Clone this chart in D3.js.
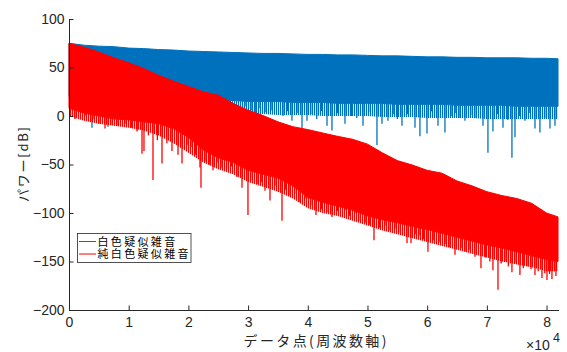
<!DOCTYPE html>
<html><head><meta charset="utf-8">
<script src="https://cdn.jsdelivr.net/npm/d3@7"></script>
<style>body{margin:0;background:#fff}svg{display:block}</style>
</head><body>
<svg id="c" width="567" height="352"></svg>
<script>
// ---- data ----
const gridX = [0,2500,5000,7500,10000,12500,15000,17500,20000,22500,25000,27500,30000,32500,35000,37500,40000,42500,45000,47500,50000,52500,55000,57500,60000,62500,65000,67500,70000,72500,75000,77500,80000,81920];
const blueTop = [75,73,72,71.5,70,69.5,68.5,68,67,66.5,66,65.5,65,64.5,64.5,64,63.5,63.5,63,63,62.5,62,62,61.5,61,61,60.5,60.5,60,60,60,59.5,59.5,59];
const blueBottom = [20,19,19,18,18,18,17,17,17,16,16,16,15,15,15,14,14,14,13,13,13,13,12,12,12,12,11,11,11,11,10,10,10,10];
const blueFringe = [6,5,5,4,4,4,3,3,3,3,2,2,2,2,1,1,1,0,0,0,0,-1,-1,-1,-2,-2,-2,-2,-3,-3,-3,-3,-3,-3];
const redTop = [75,71,66,60,55,49,42,36,30.5,25,21.5,13,6,0.5,-6,-11,-14,-17.5,-21,-24,-29,-38,-46,-50.5,-56,-59,-67,-72,-78,-82,-85,-90,-100,-104];
const redBottom = [8,3,0,-3,-4,-6,-8,-13,-22,-35,-43,-48,-56,-60,-64,-72,-84,-89,-93,-97,-103,-107,-110,-114,-117,-121,-125,-129,-133,-136,-140,-144,-148,-150];
const redFringe = [0,-5,-8,-10,-12,-15,-20,-28,-38,-48,-55,-60,-68,-73,-78,-85,-95,-100,-103,-108,-113,-118,-122,-126,-130,-134,-138,-142,-146,-150,-153,-156,-160,-160];

const blueSpikeX = [170,1840,3000,3850,5200,6530,8000,9500,11390,29650,30500,31200,32000,33000,34000,35850,36600,37350,38200,39030,39870,40500,41500,42300,43220,44050,45000,46230,47300,48200,49250,50200,51590,52430,53430,54300,55000,55780,56700,57960,58790,59970,60700,61810,62980,64000,64800,65500,66330,67300,68200,69350,70180,71020,71800,72700,73500,74200,74710,75500,76380,77200,78060,78890,79700,80570,81410];
const blueSpikeMin = [5,4,8,-12,6,-11,7,5,-14,10,6,3,8,4,6,0,5,-5,3,-13,-5,2,-3,5,-10,-15,3,-8,0,-2,-10,4,-30,-8,-5,2,-3,-10,2,-12,-21,-18,5,-10,-17,0,3,-2,-5,1,-2,-10,-38,-16,2,-12,-4,-43,-22,0,-5,3,-13,-17,-2,-13,-10];

const redSpikeX = [1000,2680,4020,5000,6030,7000,8210,9550,10500,11400,12230,12560,13300,14070,14800,15580,16400,17250,18260,18930,19770,20440,21200,21940,22110,22950,23500,24120,24800,25630,26400,27200,28140,28980,29980,30700,31490,32200,32830,33670,34500,35100,35680,36300,37020,37800,38690,39700,40500,41370,42300,43200,44050,45000,46230,47000,47910,48800,49600,50300,51090,52000,52930,53800,54610,55500,56620,57290,58000,58790,59400,60130,61000,62140,63000,63800,64660,65830,66500,67170,68000,69010,69800,70500,71020,71860,72400,73030,73600,74200,74900,75540,76100,76720,77400,78060,78600,79230,79700,80070,80500,80900,81300,81570];
const redSpikeMin = [-3,0,-3,-8,-13,-9,-10,-8,-12,-16,-39,-36,-20,-66,-25,-49,-28,-36,-40,-49,-30,-32,-40,-53,-74,-47,-50,-56,-48,-53,-55,-52,-63,-74,-102,-66,-70,-68,-77,-87,-72,-78,-108,-76,-82,-80,-89,-85,-92,-102,-96,-99,-104,-98,-97,-103,-100,-108,-110,-112,-128,-115,-113,-118,-116,-120,-131,-131,-122,-123,-127,-140,-128,-130,-132,-135,-143,-136,-140,-138,-145,-157,-146,-150,-159,-179,-152,-150,-155,-161,-152,-164,-157,-155,-158,-164,-160,-167,-162,-169,-163,-168,-160,-165];

const xTicks = [0,10000,20000,30000,40000,50000,60000,70000,80000];
const xTickLabels = ["0","1","2","3","4","5","6","7","8"];
const yTicks = [100,50,0,-50,-100,-150,-200];
const yTickLabels = ["100","50","0","\u221250","\u2212100","\u2212150","\u2212200"];
const seriesNames = ["白色疑似雑音","純白色疑似雑音"];
const seriesColors = ["#0072BD","#FF0000"];
const xLabel = "データ点(周波数軸)";
const yLabel = "パワー[dB]";

// ---- drawing ----
const svg = d3.select("#c");
const axisColor = "#262626";
const x = d3.scaleLinear().domain([0, 82000]).range([69, 558.5]);
const y = d3.scaleLinear().domain([-200, 100]).range([310, 19]);

const defs = svg.append("defs");
seriesColors.forEach((c, i) => {
  const p = defs.append("pattern").attr("id", "stripe" + i).attr("patternUnits", "userSpaceOnUse")
    .attr("width", 2).attr("height", 10);
  p.append("rect").attr("width", 1.2).attr("height", 10).attr("fill", c);
});

function drawSeries(idx, top, bottom, fringe, sx, smin) {
  const color = seriesColors[idx];
  const rows = gridX.map((gx, i) => ({gx, t: top[i], b: bottom[i], f: fringe[i]}));
  svg.append("path").datum(rows)
    .attr("d", d3.area().x(d => x(d.gx)).y0(d => y(d.f)).y1(d => y(d.b)))
    .attr("fill", `url(#stripe${idx})`);
  svg.append("path").datum(rows)
    .attr("d", d3.area().x(d => x(d.gx)).y0(d => y(d.b)).y1(d => y(d.t)))
    .attr("fill", color).attr("stroke", color).attr("stroke-width", 1);
  const bottomAt = d3.scaleLinear().domain(gridX).range(bottom);
  svg.append("g").selectAll("line").data(sx.map((v, i) => ({v, m: smin[i]})))
    .join("line")
    .attr("x1", d => x(d.v)).attr("x2", d => x(d.v))
    .attr("y1", d => y(bottomAt(d.v)) - 2).attr("y2", d => y(d.m))
    .attr("stroke", color).attr("stroke-width", 1.3);
}
drawSeries(0, blueTop, blueBottom, blueFringe, blueSpikeX, blueSpikeMin);
drawSeries(1, redTop, redBottom, redFringe, redSpikeX, redSpikeMin);

// axes
const font = "'Liberation Sans', Arial, sans-serif";
const gx = svg.append("g").attr("transform", "translate(0,310)")
  .call(d3.axisBottom(x).tickValues(xTicks).tickFormat((d, i) => xTickLabels[i])
    .tickSizeInner(-4.5).tickSizeOuter(0).tickPadding(7.5));
const gy = svg.append("g").attr("transform", "translate(69,0)")
  .call(d3.axisLeft(y).tickValues(yTicks).tickFormat((d, i) => yTickLabels[i])
    .tickSizeInner(-4.5).tickSizeOuter(0).tickPadding(4.5));
[gx, gy].forEach(g => {
  g.select(".domain").attr("stroke", axisColor).attr("stroke-width", 1);
  g.selectAll(".tick line").attr("stroke", axisColor).attr("stroke-width", 1);
  g.selectAll(".tick text").attr("fill", axisColor).style("font-family", font).style("font-size", "14px");
});

// exponent
svg.append("text").attr("x", 526).attr("y", 350).attr("fill", axisColor)
  .style("font-family", font).style("font-size", "14px").text("\u00d710");
svg.append("text").attr("x", 553).attr("y", 342).attr("fill", axisColor)
  .style("font-family", font).style("font-size", "12.5px").text("4");

// labels
const cjk = "'Noto Sans CJK JP', sans-serif";
svg.append("text").attr("x", 243.5).attr("y", 346).attr("fill", axisColor)
  .attr("textLength", 143).attr("lengthAdjust", "spacing")
  .style("font-family", cjk).style("font-size", "14px").text(xLabel);
svg.append("text").attr("transform", "translate(28,202) rotate(-90)").attr("fill", axisColor)
  .attr("textLength", 75).attr("lengthAdjust", "spacing")
  .style("font-family", cjk).style("font-size", "13px").text(yLabel);

// legend
const lg = svg.append("g");
lg.append("rect").attr("x", 77.5).attr("y", 233.5).attr("width", 113.5).attr("height", 29)
  .attr("fill", "#fff").attr("stroke", axisColor).attr("stroke-width", 0.8);
const legendLens = [77.7, 91];
seriesNames.forEach((name, i) => {
  const yy = 241.5 + i * 12.5;
  lg.append("line").attr("x1", 79).attr("x2", 96).attr("y1", yy).attr("y2", yy)
    .attr("stroke", seriesColors[i]).attr("stroke-width", 1);
  lg.append("text").attr("x", 97.5).attr("y", yy + 4).attr("fill", "#000")
    .attr("textLength", legendLens[i]).attr("lengthAdjust", "spacing")
    .style("font-family", cjk).style("font-size", "11px").text(name);
});
</script>
</body></html>
